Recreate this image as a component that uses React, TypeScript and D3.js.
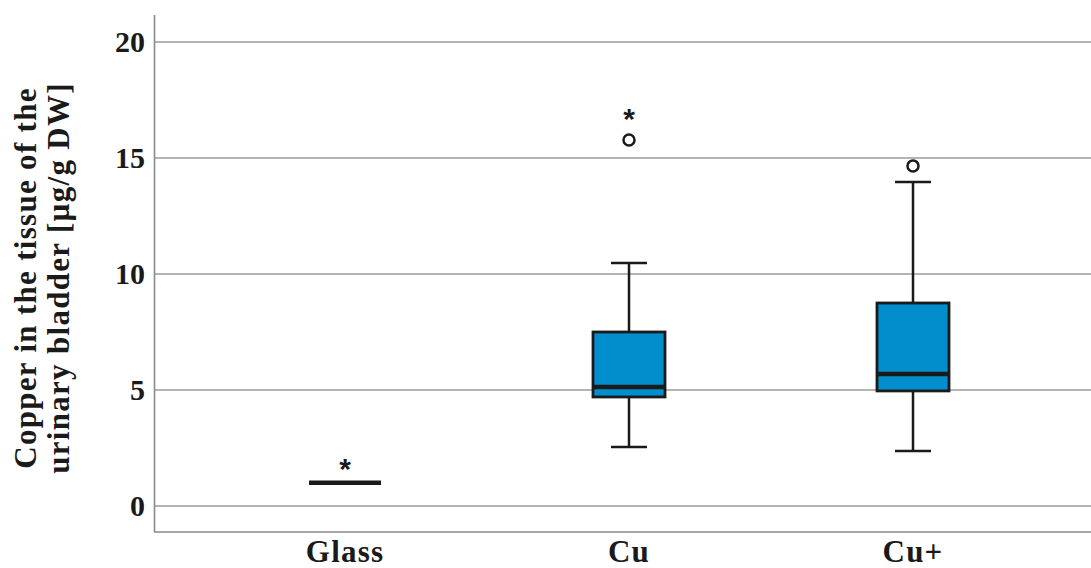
import * as d3 from "d3"
import { useEffect, useRef } from "react"

const categories = ["Glass", "Cu", "Cu+"]
const whiskerLow = [1.0, 2.54, 2.37]
const q1 = [1.0, 4.7, 4.96]
const median = [1.0, 5.13, 5.69]
const q3 = [1.0, 7.5, 8.75]
const whiskerHigh = [1.0, 10.47, 13.97]
const outliers = [
  { cat: "Cu", value: 15.78 },
  { cat: "Cu+", value: 14.66 },
]
const extremes = [
  { cat: "Glass", value: 1.9 },
  { cat: "Cu", value: 17.0 },
]
const yTicks = [0, 5, 10, 15, 20]

const width = 1091
const height = 568
const FONT = "'Liberation Serif', 'Times New Roman', serif"

const App = () => {
  const ref = useRef<SVGSVGElement>(null)

  useEffect(() => {
    const left = 154
    const right = width
    const top = 15
    const bottom = 532

    const svg = d3.select(ref.current)
    svg.selectAll("*").remove()

    const y = d3.scaleLinear().domain([0, 20]).range([506, 42])
    const x = d3.scalePoint().domain(categories).range([345, 913])
    const boxW = 72
    const capW = 36

    // gridlines
    svg
      .append("g")
      .selectAll("line")
      .data(yTicks)
      .enter()
      .append("line")
      .attr("x1", left)
      .attr("x2", right)
      .attr("y1", (d) => y(d))
      .attr("y2", (d) => y(d))
      .attr("stroke", "#b4b4b4")
      .attr("stroke-width", 2.2)

    // tick labels
    svg
      .append("g")
      .selectAll("text")
      .data(yTicks)
      .enter()
      .append("text")
      .attr("x", 145)
      .attr("y", (d) => y(d) + 10)
      .attr("text-anchor", "end")
      .attr("font-family", FONT)
      .attr("font-weight", "bold")
      .attr("font-size", 30)
      .attr("fill", "#1a1a1a")
      .text((d) => d)

    // axes
    svg
      .append("line")
      .attr("x1", left + 0.5)
      .attr("x2", left + 0.5)
      .attr("y1", top)
      .attr("y2", bottom)
      .attr("stroke", "#8a8a8a")
      .attr("stroke-width", 1.6)
    svg
      .append("line")
      .attr("x1", left)
      .attr("x2", right)
      .attr("y1", bottom)
      .attr("y2", bottom)
      .attr("stroke", "#8a8a8a")
      .attr("stroke-width", 1.6)

    // category labels
    svg
      .append("g")
      .selectAll("text")
      .data(categories)
      .enter()
      .append("text")
      .attr("x", (d) => x(d))
      .attr("y", 562)
      .attr("text-anchor", "middle")
      .attr("font-family", FONT)
      .attr("font-weight", "bold")
      .attr("font-size", 31)
      .attr("letter-spacing", 1.2)
      .attr("fill", "#1a1a1a")
      .text((d) => d)

    // y title
    const title = svg
      .append("text")
      .attr("transform", "translate(0,278) rotate(-90)")
      .attr("text-anchor", "middle")
      .attr("font-family", FONT)
      .attr("font-weight", "bold")
      .attr("font-size", 31)
      .attr("letter-spacing", 1.3)
      .attr("fill", "#1a1a1a")
    title.append("tspan").attr("x", 0).attr("y", 36).text("Copper in the tissue of the")
    title.append("tspan").attr("x", 0).attr("y", 69).text("urinary bladder [µg/g DW]")

    const ink = "#1a1a1a"
    const boxes = categories.map((c, i) => ({
      cat: c,
      lo: whiskerLow[i],
      q1: q1[i],
      med: median[i],
      q3: q3[i],
      hi: whiskerHigh[i],
    }))

    const g = svg
      .append("g")
      .selectAll("g")
      .data(boxes)
      .enter()
      .append("g")
      .attr("transform", (d) => `translate(${x(d.cat)},0)`)

    const withWhiskers = (sel) => sel.filter((d) => d.hi > d.q3 || d.lo < d.q1)

    // whisker stems
    withWhiskers(g)
      .append("line")
      .attr("x1", 0)
      .attr("x2", 0)
      .attr("y1", (d) => y(d.hi))
      .attr("y2", (d) => y(d.lo))
      .attr("stroke", ink)
      .attr("stroke-width", 2.5)
    // caps
    withWhiskers(g)
      .selectAll("line.cap")
      .data((d) => [d.lo, d.hi])
      .enter()
      .append("line")
      .attr("class", "cap")
      .attr("x1", -capW / 2)
      .attr("x2", capW / 2)
      .attr("y1", (v) => y(v))
      .attr("y2", (v) => y(v))
      .attr("stroke", ink)
      .attr("stroke-width", 2.5)

    // boxes
    g.filter((d) => d.q3 > d.q1)
      .append("rect")
      .attr("x", -boxW / 2)
      .attr("width", boxW)
      .attr("y", (d) => y(d.q3))
      .attr("height", (d) => y(d.q1) - y(d.q3))
      .attr("fill", "#028ecd")
      .attr("stroke", ink)
      .attr("stroke-width", 2.8)

    // medians
    g.append("line")
      .attr("x1", -boxW / 2)
      .attr("x2", boxW / 2)
      .attr("y1", (d) => y(d.med))
      .attr("y2", (d) => y(d.med))
      .attr("stroke", ink)
      .attr("stroke-width", 4.5)

    // outliers
    svg
      .append("g")
      .selectAll("circle")
      .data(outliers)
      .enter()
      .append("circle")
      .attr("cx", (d) => x(d.cat))
      .attr("cy", (d) => y(d.value))
      .attr("r", 5.5)
      .attr("fill", "white")
      .attr("stroke", ink)
      .attr("stroke-width", 2.5)

    // extremes
    svg
      .append("g")
      .selectAll("text")
      .data(extremes)
      .enter()
      .append("text")
      .attr("x", (d) => x(d.cat))
      .attr("y", (d) => y(d.value))
      .attr("dy", "0.58em")
      .attr("text-anchor", "middle")
      .attr("font-family", "'Liberation Sans', Arial, sans-serif")
      .attr("font-weight", "bold")
      .attr("font-size", 30)
      .attr("fill", ink)
      .text("*")
  }, [])

  return (
    <div style={{ position: "fixed", left: 0, top: 0, background: "white" }}>
      <svg ref={ref} width={width} height={height} style={{ display: "block" }}></svg>
    </div>
  )
}

export default App
